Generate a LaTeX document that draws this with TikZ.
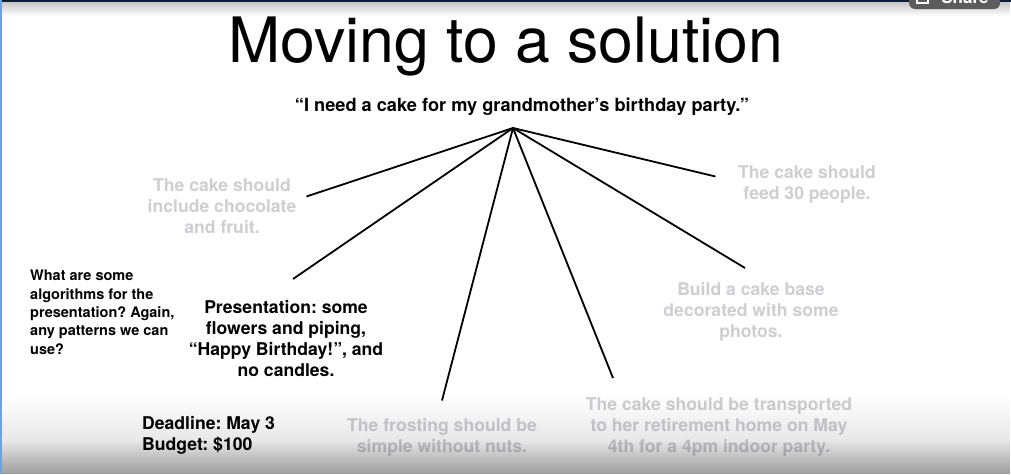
\documentclass[tikz,border=0pt]{standalone}
\usepackage{fontspec}
\setmainfont{TeX Gyre Heros}
\usetikzlibrary{fadings}
\frenchspacing
\definecolor{faded}{RGB}{206,206,211}
\definecolor{navybar}{RGB}{14,30,56}
\definecolor{edgeblue}{RGB}{110,160,228}
\definecolor{btngray}{RGB}{92,92,92}
\tikzfading[name=risefade, top color=transparent!100, bottom color=transparent!0]
\tikzfading[name=dropfade, top color=transparent!0, bottom color=transparent!100]
\begin{document}
\begin{tikzpicture}[x=1pt,y=-1pt,
  heading/.style={font=\fontsize{62.6}{70}\selectfont, anchor=base, inner sep=0pt},
  quote/.style={font=\bfseries\fontsize{18.2}{22}\selectfont, anchor=base, inner sep=0pt},
  idea/.style={font=\bfseries\fontsize{17.6}{21}\selectfont, text=faded, align=center, anchor=north, inner sep=0pt},
  chosen/.style={font=\bfseries\fontsize{17.6}{21}\selectfont, align=center, anchor=north, inner sep=0pt},
  note/.style={font=\bfseries\fontsize{14.5}{18.4}\selectfont, align=left, anchor=north west, inner sep=0pt},
  branch/.style={line width=1.8pt, black}
]
\useasboundingbox (0,0) rectangle (1011,474);

% slide background
\fill[white] (0,0) rectangle (1011,474);

% title and the request
\node[heading] (title) at (506,62) {Moving to a solution};
\node[quote] (request) at (522,111) {“I need a cake for my grandmother’s birthday party.”};

% ideas branching from the request
\coordinate (hub) at (513,128);
\coordinate (toChoc) at (306.5,196.5);
\coordinate (toPres) at (293,279);
\coordinate (toFrost) at (442,400.5);
\coordinate (toMove) at (613,378);
\coordinate (toBase) at (745,268);
\coordinate (toFeed) at (715.5,176.5);

\node[idea] (choc) at (222,178) {The cake should\\include chocolate\\and fruit.};
\node[idea] (feed) at (807,165) {The cake should\\feed 30 people.};
\node[idea] (base) at (751,282) {Build a cake base\\decorated with some\\photos.};
\node[chosen] (pres) at (286,300) {Presentation: some\\flowers and piping,\\“Happy Birthday!”, and\\no candles.};
\node[idea] (frost) at (442,418) {The frosting should be\\simple without nuts.};
\node[idea] (move) at (719,397) {The cake should be transported\\to her retirement home on May\\4th for a 4pm indoor party.};

\node[note] (question) at (30,270) {What are some\\algorithms for the\\presentation? Again,\\any patterns we can\\use?};
\node[chosen, align=left, anchor=north west] (limits) at (142,416) {Deadline: May 3\\Budget: \$100};

\foreach \e in {toChoc,toPres,toFrost,toMove,toBase,toFeed}
  \draw[branch] (hub) -- (\e);

% player overlays: darkening along the bottom, bar and shadow on top, blue edge
\fill[black, opacity=0.16, path fading=risefade] (0,395) rectangle (1011,474);
\fill[black, opacity=0.26, path fading=risefade] (0,440) rectangle (1011,474);
\fill[black, opacity=0.22, path fading=dropfade] (0,2) rectangle (1011,16);
\fill[navybar] (0,0) rectangle (1011,2);
\fill[edgeblue] (0,0) rectangle (1.6,474);

% share button, cut by the top edge
\begin{scope}
  \clip (0,0) rectangle (1011,474);
  \fill[btngray, rounded corners=6pt] (909,-14) rectangle (1000,9);
  \draw[white, line width=1.2pt] (917,-6) rectangle (928,3);
  \node[font=\bfseries\fontsize{17}{20}\selectfont, text=white, anchor=base, inner sep=0pt] (share) at (965,3.5) {Share};
\end{scope}
\end{tikzpicture}
\end{document}
